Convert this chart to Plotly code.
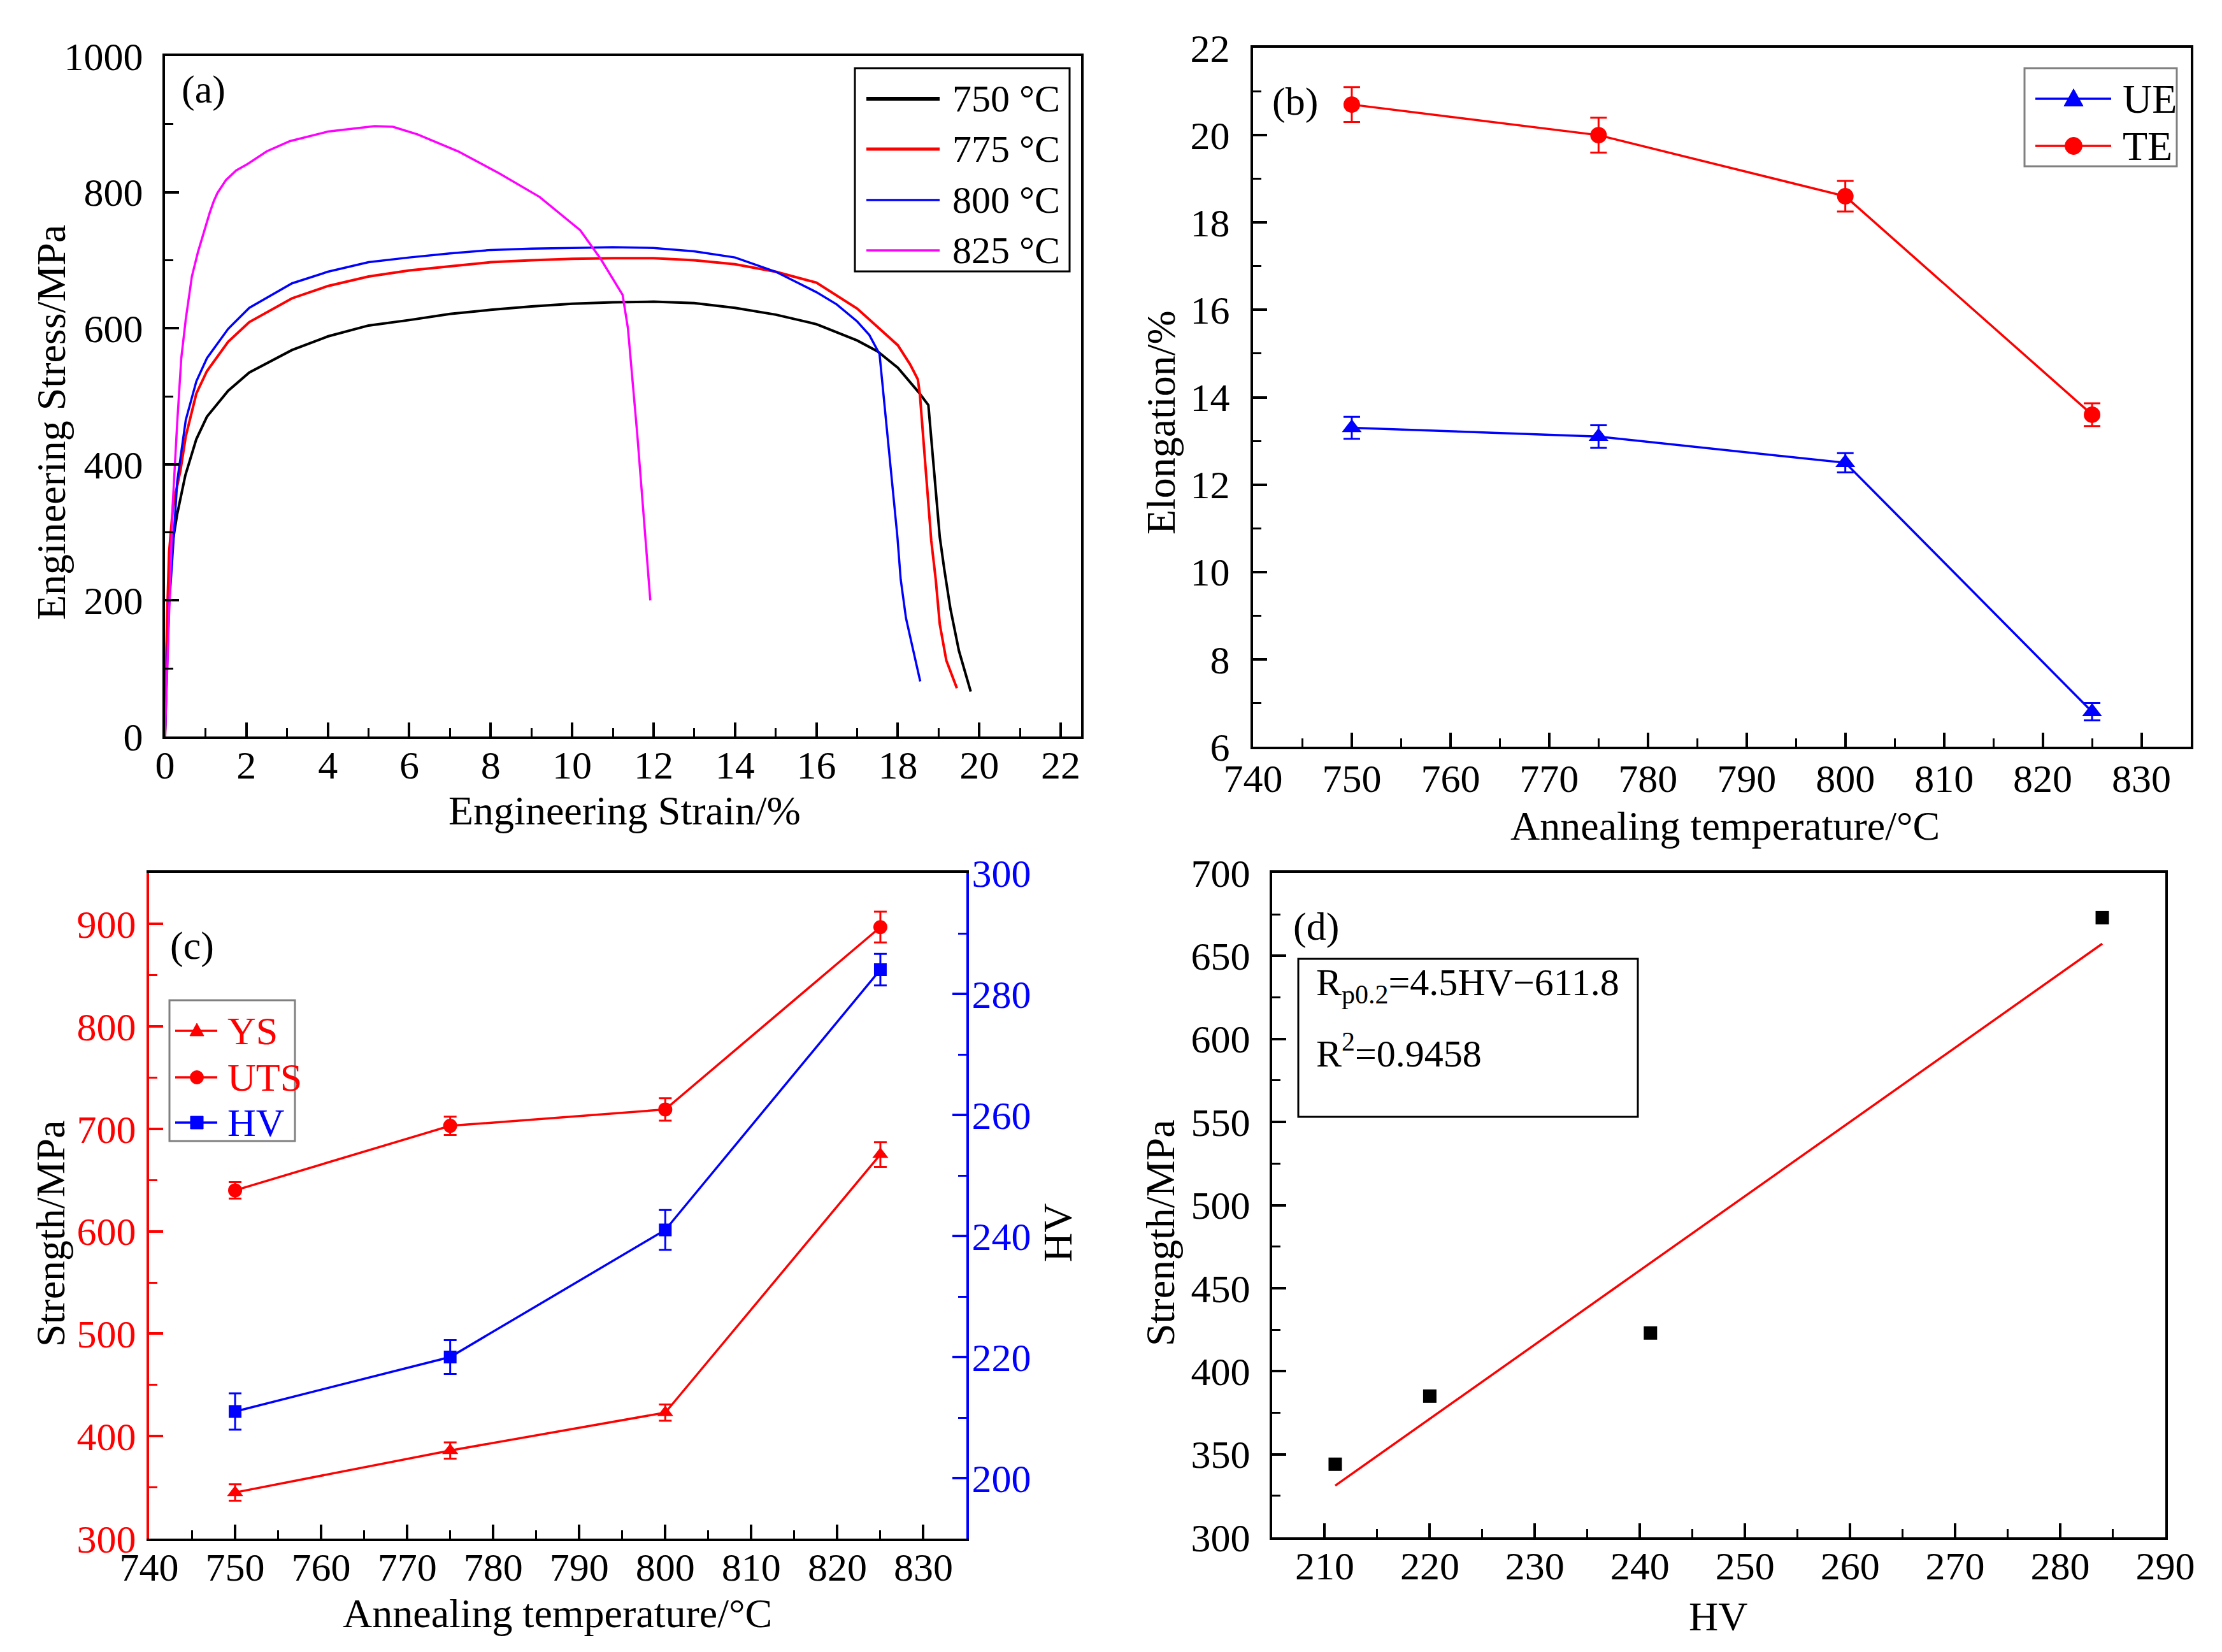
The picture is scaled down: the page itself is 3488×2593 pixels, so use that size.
import numpy as np
import plotly.graph_objects as go

# ---- data ----
# (a) engineering stress-strain curves
strain_750 = [0, 0.05, 0.1, 0.2, 0.3, 0.5, 0.77, 1.03, 1.55, 2.07, 3.12, 4.0, 5.0, 6.0, 7.0, 8.0, 9.0,
              10.0, 11.0, 12.0, 13.0, 14.0, 15.0, 16.0, 17.0, 17.5, 18.0, 18.51, 18.75, 18.82, 18.93,
              19.03, 19.14, 19.29, 19.5, 19.79]
stress_750 = [0, 150, 230, 290, 327, 384, 437, 470, 508, 535, 568, 588, 604, 612, 621, 627, 632,
              636, 638, 639, 637, 630, 620, 606, 582, 566, 542, 506, 487, 441, 365,
              293, 246, 188, 126, 66]
strain_775 = [0, 0.05, 0.1, 0.2, 0.38, 0.51, 0.77, 1.03, 1.55, 2.07, 3.12, 4.0, 5.0, 6.0, 7.0, 8.0,
              9.0, 10.0, 11.0, 12.0, 13.0, 14.0, 15.0, 16.0, 17.0, 17.5, 18.0, 18.3, 18.49, 18.54,
              18.64, 18.72, 18.82, 18.93, 19.03, 19.19, 19.45]
stress_775 = [0, 170, 270, 340, 391, 441, 504, 537, 580, 609, 644, 662, 676, 685, 691, 697,
              700, 702, 703, 703, 700, 694, 683, 667, 629, 602, 575, 547, 525, 504,
              422, 365, 288, 231, 165, 112, 71]
strain_800 = [0, 0.05, 0.1, 0.19, 0.3, 0.51, 0.77, 1.03, 1.55, 2.07, 3.12, 4.0, 5.0, 6.0, 7.0, 8.0,
              9.0, 10.0, 11.0, 12.0, 13.0, 14.0, 15.0, 16.0, 16.5, 17.0, 17.3, 17.55, 17.7, 17.85,
              17.99, 18.07, 18.2, 18.38, 18.55]
stress_800 = [0, 110, 190, 270, 375, 465, 522, 556, 599, 630, 666, 683, 697, 704, 710, 715,
              717, 718, 719, 718, 713, 704, 683, 653, 635, 610, 590, 562, 470, 380,
              293, 231, 174, 126, 81]
strain_825 = [0, 0.05, 0.09, 0.19, 0.3, 0.4, 0.51, 0.66, 0.81, 0.98, 1.1, 1.2, 1.29, 1.5, 1.75, 2.02,
              2.5, 3.07, 4.0, 5.15, 5.6, 6.2, 7.2, 8.2, 9.2, 10.2, 10.7, 11.24, 11.37, 11.6, 11.77,
              11.92]
stress_825 = [0, 90, 174, 341, 461, 556, 613, 676, 712, 747, 770, 787, 799, 818, 832, 841,
              860, 875, 889, 897, 896, 885, 860, 828, 793, 744, 702, 649, 600, 444, 318,
              200]

# (b) elongation
temps = [750, 775, 800, 825]
ue = [13.3, 13.1, 12.5, 6.8]
ue_err = [0.25, 0.26, 0.22, 0.2]
te = [20.7, 20.0, 18.6, 13.6]
te_err = [0.4, 0.4, 0.35, 0.26]

# (c) strength and hardness
ys = [345, 386, 423, 675]
ys_err = [8, 8, 8, 12]
uts = [640, 703, 719, 897]
uts_err = [8, 9, 11, 15]
hv = [211, 220, 241, 284]
hv_err = [3, 2.8, 3.3, 2.6]

# (d) yield strength vs hardness
hv_d = [211, 220, 241, 284]
ys_d = [344, 385, 423, 673]

W, H = 3488, 2593
FONT = "Liberation Serif"
RED, BLUE, MAG = "#FF0000", "#0000FF", "#FF00FF"


def px(x):
    return x / W


def py(y):
    return 1 - y / H


def axis(dom, rng, dtick, mdtick, tick0=None, color="black", standoff=18, **kw):
    d = dict(
        domain=dom, range=rng, dtick=dtick, showline=True, linewidth=4, linecolor=color,
        ticks="inside", ticklen=22, tickwidth=4, tickcolor=color, showgrid=False,
        zeroline=False, automargin=False, ticklabelstandoff=standoff,
        tickfont=dict(family=FONT, size=62, color=color),
        minor=dict(ticks="inside", ticklen=13, tickwidth=3, tickcolor=color,
                   dtick=mdtick, showgrid=False),
    )
    if tick0 is not None:
        d["tick0"] = tick0
    d.update(kw)
    return d


fig = go.Figure()

# (a)
for xs, ys_, col, lw in [(strain_750, stress_750, "black", 4), (strain_775, stress_775, RED, 4),
                         (strain_800, stress_800, BLUE, 3.5), (strain_825, stress_825, MAG, 3.5)]:
    fig.add_trace(go.Scatter(x=xs, y=ys_, mode="lines", line=dict(color=col, width=lw),
                             xaxis="x", yaxis="y", showlegend=False))

# (b)
fig.add_trace(go.Scatter(x=temps, y=ue, mode="lines+markers", xaxis="x2", yaxis="y2",
                         line=dict(color=BLUE, width=3.5),
                         marker=dict(symbol="triangle-up", size=27, color=BLUE),
                         error_y=dict(type="data", array=ue_err, color=BLUE, thickness=3, width=13),
                         showlegend=False))
fig.add_trace(go.Scatter(x=temps, y=te, mode="lines+markers", xaxis="x2", yaxis="y2",
                         line=dict(color=RED, width=3.5),
                         marker=dict(symbol="circle", size=26, color=RED),
                         error_y=dict(type="data", array=te_err, color=RED, thickness=3, width=13),
                         showlegend=False))

# (c)
fig.add_trace(go.Scatter(x=temps, y=ys, mode="lines+markers", xaxis="x3", yaxis="y3",
                         line=dict(color=RED, width=3.5),
                         marker=dict(symbol="triangle-up", size=22, color=RED),
                         error_y=dict(type="data", array=ys_err, color=RED, thickness=3, width=10),
                         showlegend=False))
fig.add_trace(go.Scatter(x=temps, y=uts, mode="lines+markers", xaxis="x3", yaxis="y3",
                         line=dict(color=RED, width=3.5),
                         marker=dict(symbol="circle", size=22, color=RED),
                         error_y=dict(type="data", array=uts_err, color=RED, thickness=3, width=10),
                         showlegend=False))
fig.add_trace(go.Scatter(x=temps, y=hv, mode="lines+markers", xaxis="x3", yaxis="y5",
                         line=dict(color=BLUE, width=3.5),
                         marker=dict(symbol="square", size=20, color=BLUE),
                         error_y=dict(type="data", array=hv_err, color=BLUE, thickness=3, width=10),
                         showlegend=False))

# (d)
slope, intercept = np.polyfit(hv_d, ys_d, 1)
fit_x = [min(hv_d), max(hv_d)]
fit_y = [slope * v + intercept for v in fit_x]
fig.add_trace(go.Scatter(x=fit_x, y=fit_y, mode="lines", xaxis="x4", yaxis="y4",
                         line=dict(color=RED, width=3.5), showlegend=False))
fig.add_trace(go.Scatter(x=hv_d, y=ys_d, mode="markers", xaxis="x4", yaxis="y4",
                         marker=dict(symbol="square", size=21, color="black"), showlegend=False))

dom_a = ([px(251), px(1689)], [py(1148), py(80)])
dom_b = ([px(1959), px(3431)], [py(1164), py(67)])
dom_c = ([px(226), px(1509)], [py(2407), py(1362)])
dom_d = ([px(1989), px(3391)], [py(2405), py(1362)])

XS = -12  # x tick label standoff
fig.update_layout(
    width=W, height=H, template="none",
    margin=dict(l=0, r=0, t=0, b=0),
    paper_bgcolor="white", plot_bgcolor="white",
    font=dict(family=FONT, color="black"),
    showlegend=False,
    xaxis=axis(dom_a[0], [0, 22.5], 2, 1, tick0=0, standoff=XS, anchor="y", mirror=True),
    yaxis=axis(dom_a[1], [0, 1000], 200, 100, tick0=0, anchor="x", mirror=True),
    xaxis2=axis(dom_b[0], [740, 835], 10, 5, tick0=740, standoff=-7, anchor="y2", mirror=True),
    yaxis2=axis(dom_b[1], [6, 22], 2, 1, tick0=6, standoff=20, anchor="x2", mirror=True),
    xaxis3=axis(dom_c[0], [740, 835], 10, 5, tick0=740, standoff=XS, anchor="y3", mirror=True),
    yaxis3=axis(dom_c[1], [300, 950], 100, 50, tick0=300, color=RED, standoff=4, anchor="x3"),
    yaxis5=axis(dom_c[1], [190, 300], 20, 10, tick0=200, color=BLUE, standoff=-8, anchor="x3",
                overlaying="y3", side="right"),
    xaxis4=axis(dom_d[0], [205, 290], 10, 5, tick0=210, standoff=XS, anchor="y4", mirror=True),
    yaxis4=axis(dom_d[1], [300, 700], 50, 25, tick0=300, anchor="x4", mirror=True),
)

ann = []
shapes = []


def text(x, y, s, size=64, angle=0, xanchor="center", color="black"):
    ann.append(dict(x=px(x), y=py(y), xref="paper", yref="paper", text=s, showarrow=False,
                    textangle=angle, xanchor=xanchor, yanchor="middle",
                    font=dict(family=FONT, size=size, color=color)))


# axis titles
text(72, 655, "Engineering Stress/MPa", angle=-90)
text(972, 1264, "Engineering Strain/%")
text(1814, 655, "Elongation/%", angle=-90)
text(2700, 1288, "Annealing temperature/°C")
text(71, 1928, "Strength/MPa", angle=-90)
text(867, 2524, "Annealing temperature/°C")
text(1652, 1927, "HV", angle=-90)
text(1813, 1927, "Strength/MPa", angle=-90)
text(2689, 2529, "HV")

# panel labels
text(311, 132, "(a)", size=62)
text(2025, 152, "(b)", size=62)
text(293, 1476, "(c)", size=62)
text(2058, 1446, "(d)", size=62)


def box(x0, y0, x1, y1, color="black", w=3):
    shapes.append(dict(type="rect", xref="paper", yref="paper", x0=px(x0), x1=px(x1),
                       y0=py(y0), y1=py(y1), line=dict(color=color, width=w),
                       fillcolor="white", layer="above"))


def seg(x0, x1, y, color, w):
    shapes.append(dict(type="line", xref="paper", yref="paper", x0=px(x0), x1=px(x1),
                       y0=py(y), y1=py(y), line=dict(color=color, width=w), layer="above"))


def tri(cx, cy, s, color):
    h = s * 0.9
    path = (f"M {px(cx - s / 2)} {py(cy + h / 2)} L {px(cx + s / 2)} {py(cy + h / 2)} "
            f"L {px(cx)} {py(cy - h / 2)} Z")
    shapes.append(dict(type="path", xref="paper", yref="paper", path=path,
                       fillcolor=color, line=dict(color=color, width=1), layer="above"))


def dot(cx, cy, s, color, kind="circle"):
    shapes.append(dict(type=kind, xref="paper", yref="paper", x0=px(cx - s / 2), x1=px(cx + s / 2),
                       y0=py(cy + s / 2), y1=py(cy - s / 2), fillcolor=color,
                       line=dict(color=color, width=1), layer="above"))


# legend (a)
box(1334, 99, 1671, 418)
for yy, lab, col, lw in [(147, "750 °C", "black", 6), (226, "775 °C", RED, 5),
                         (306, "800 °C", BLUE, 3.5), (385, "825 °C", MAG, 3.5)]:
    seg(1352, 1467, yy, col, lw)
    text(1485, yy, lab, size=60, xanchor="left")

# legend (b)
box(3170, 99, 3409, 253, color="#808080")
seg(3187, 3306, 147, BLUE, 3.5)
tri(3247, 145, 30, BLUE)
text(3322, 147, "UE", size=64, xanchor="left")
seg(3187, 3306, 221, RED, 3.5)
dot(3247, 221, 27, RED)
text(3322, 221, "TE", size=64, xanchor="left")

# legend (c)
box(258, 1562, 455, 1783, color="#808080")
seg(267, 333, 1610, RED, 3.5)
tri(301, 1608, 22, RED)
text(347, 1610, "YS", size=62, xanchor="left", color=RED)
seg(267, 333, 1683, RED, 3.5)
dot(301, 1683, 21, RED)
text(347, 1683, "UTS", size=62, xanchor="left", color=RED)
seg(267, 333, 1754, BLUE, 3.5)
dot(301, 1754, 20, BLUE, kind="rect")
text(347, 1754, "HV", size=62, xanchor="left", color=BLUE)

# fit box (d)
box(2030, 1497, 2563, 1745)
text(2056, 1538, "R<sub>p0.2</sub>=4.5HV−611.8", size=60, xanchor="left")
text(2056, 1641, "R<sup>2</sup>=0.9458", size=60, xanchor="left")

fig.update_layout(annotations=ann, shapes=shapes)
fig.write_html("out.html")
